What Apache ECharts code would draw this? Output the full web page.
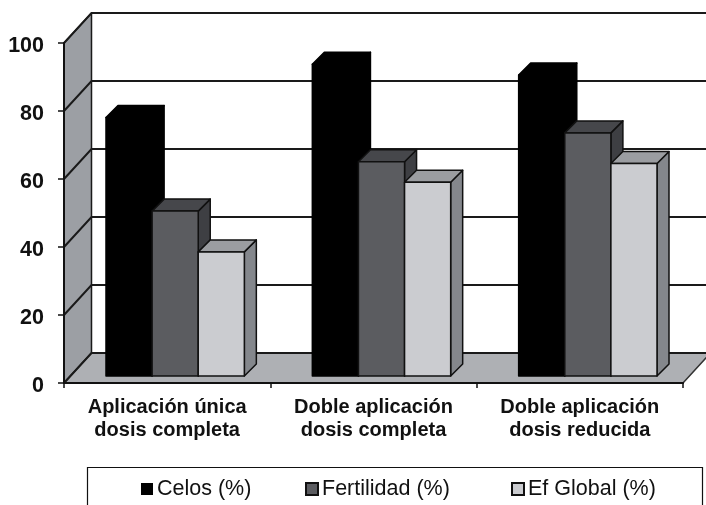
<!DOCTYPE html>
<html>
<head>
<meta charset="utf-8">
<style>
  html, body { margin: 0; padding: 0; background: #fff; }
  #chart { width: 706px; height: 505px; }
</style>
<script src="https://cdn.jsdelivr.net/npm/echarts@6/dist/echarts.min.js"></script>
</head>
<body>
<div id="chart"></div>
<script>
const categories = ["Aplicación única\ndosis completa", "Doble aplicación\ndosis completa", "Doble aplicación\ndosis reducida"];
const celos = [76, 91.7, 88.5];
const fertilidad = [48.5, 63, 71.5];
const efGlobal = [36.5, 57, 62.5];
const yTicks = [0, 20, 40, 60, 80, 100];
const legendNames = ["Celos (%)", "Fertilidad (%)", "Ef Global (%)"];
const legendLeft = [136, 300, 506];

// fake 3D look: offsets of the back wall and of the bars, in pixels
const wallDx = 27.5, wallDy = 30;
const floorDy = 7, barShift = 8, barDepth = 12, barBand = 0.2235;
const font = "Liberation Sans";

const faces = [
  { front: "#000000", top: "#000000", side: "#000000", line: "#000000" },
  { front: "#5b5c60", top: "#46474b", side: "#3e3f43", line: "#111111" },
  { front: "#cbccd0", top: "#9b9da1", side: "#84878c", line: "#111111" },
];

function poly(points, fill, stroke, width) {
  return {
    type: "polygon",
    shape: { points: points },
    style: { fill: fill, stroke: stroke, lineWidth: width || 1.5, lineJoin: "round" },
  };
}

function renderWalls(params, api) {
  const x0 = api.coord([0, 0])[0] - api.size([1, 0])[0] / 2;
  const x1 = x0 + api.size([1, 0])[0] * categories.length;
  const y0 = api.coord([0, 0])[1];
  const y1 = api.coord([0, 100])[1];
  const children = [
    poly([[x0, y0], [x0 + wallDx, y0 - wallDy], [x0 + wallDx, y1 - wallDy], [x0, y1]], "#9c9fa4", "#1a1a1a"),
    poly([[x0, y0], [x1, y0], [x1 + wallDx, y0 - wallDy], [x0 + wallDx, y0 - wallDy]], "#aeb0b4", "#333333"),
  ];
  yTicks.forEach((t) => {
    const y = api.coord([0, t])[1];
    children.push({
      type: "polyline",
      shape: { points: [[x0, y], [x0 + wallDx, y - wallDy], [x1 + wallDx, y - wallDy]] },
      style: { fill: "none", stroke: "#1a1a1a", lineWidth: 2 },
    });
  });
  return { type: "group", children: children };
}

function barRenderer(seriesNo) {
  return function (params, api) {
    const band = api.size([1, 0])[0];
    const w = band * barBand;
    const base = api.coord([api.value(0), 0]);
    const top = api.coord([api.value(0), api.value(1)]);
    const x = base[0] + barShift + (seriesNo - 1.5) * w;
    const yb = base[1] - floorDy;
    const yt = top[1] - floorDy;
    const c = faces[seriesNo];
    return {
      type: "group",
      children: [
        poly([[x + w, yt], [x + w + barDepth, yt - barDepth], [x + w + barDepth, yb - barDepth], [x + w, yb]], c.side, c.line),
        poly([[x, yt], [x + barDepth, yt - barDepth], [x + w + barDepth, yt - barDepth], [x + w, yt]], c.top, c.line),
        poly([[x, yt], [x + w, yt], [x + w, yb], [x, yb]], c.front, c.line),
      ],
    };
  };
}

function barSeries(name, values, seriesNo) {
  return {
    name: name,
    type: "custom",
    renderItem: barRenderer(seriesNo),
    encode: { x: 0, y: 1 },
    data: values.map((v, i) => [i, v]),
    itemStyle: { color: faces[seriesNo].front, borderColor: "#111111", borderWidth: seriesNo ? 1.5 : 0 },
    z: 3 + seriesNo,
  };
}

const chart = echarts.init(document.getElementById("chart"));
chart.setOption({
  animation: false,
  backgroundColor: "#ffffff",
  grid: { left: 64, right: 23, top: 43, bottom: 122 },
  graphic: [{
    type: "rect",
    shape: { x: 87.5, y: 467.5, width: 615, height: 50 },
    style: { fill: "#ffffff", stroke: "#111111", lineWidth: 1.2 },
    z: 0,
  }],
  legend: legendNames.map((name, i) => ({
    left: legendLeft[i],
    top: 473,
    itemWidth: 12,
    itemHeight: 12,
    icon: "rect",
    textStyle: { fontFamily: font, fontSize: 21.5, color: "#111111", padding: [0, 0, 0, -1] },
    data: [name],
  })),
  xAxis: {
    type: "category",
    data: categories,
    axisLine: { lineStyle: { color: "#111111", width: 2 } },
    axisTick: { show: true, length: 5, lineStyle: { color: "#111111", width: 1.5 } },
    axisLabel: { interval: 0, margin: 13, fontFamily: font, fontWeight: "bold", fontSize: 20, lineHeight: 23, color: "#111111" },
    z: 10,
  },
  yAxis: {
    type: "value",
    min: 0,
    max: 100,
    interval: 20,
    axisLine: { show: true, lineStyle: { color: "#111111", width: 2 } },
    axisTick: { show: true, length: 6, lineStyle: { color: "#111111", width: 1.5 } },
    axisLabel: { margin: 20, verticalAlign: "top", padding: [-8, 0, 0, 0], fontFamily: font, fontWeight: "bold", fontSize: 21.5, color: "#111111" },
    splitLine: { show: false },
    z: 10,
  },
  series: [
    { type: "custom", silent: true, renderItem: renderWalls, data: [[0, 0]], encode: { x: 0, y: 1 }, z: 1 },
    barSeries("Celos (%)", celos, 0),
    barSeries("Fertilidad (%)", fertilidad, 1),
    barSeries("Ef Global (%)", efGlobal, 2),
  ],
});
</script>
</body>
</html>
